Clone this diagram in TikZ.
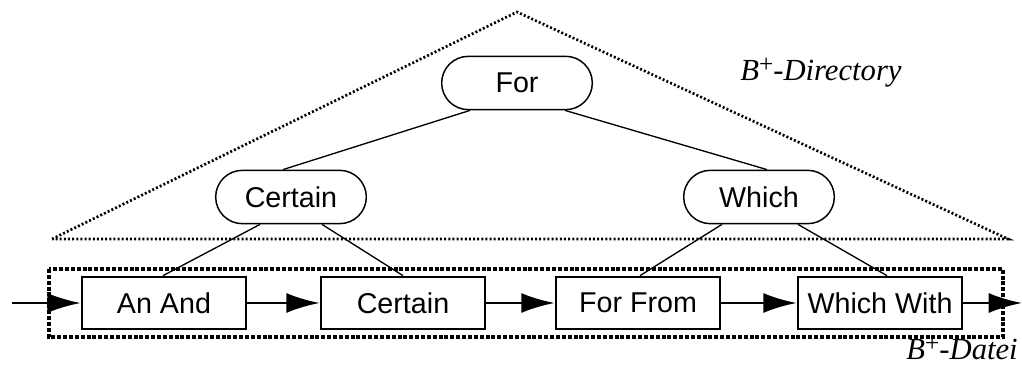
\documentclass[tikz,border=0pt]{standalone}
\usepackage{fontspec}
\setmainfont{Liberation Sans}
\newfontfamily\serifit{Liberation Serif}
\usetikzlibrary{arrows.meta,shapes.misc,calc}

\begin{document}
\begin{tikzpicture}[x=0.75pt,y=-0.75pt,
    inner/.style ={rounded rectangle, draw, line width=1.1pt, minimum width=113pt,
                   minimum height=40pt, inner sep=0pt, font=\fontsize{21.5}{25}\selectfont},
    leaf/.style ={rectangle, draw, line width=2pt, minimum width=123pt,
                  minimum height=39pt, inner sep=0pt, font=\fontsize{21.5}{25}\selectfont},
    link/.style ={line width=1pt},
    chain/.style ={line width=1.9pt, -{Latex[length=25pt,width=15pt]}},
    area/.style ={font=\serifit\itshape\fontsize{23}{27}\selectfont, inner sep=0pt}]
   \useasboundingbox (0,0) rectangle (1022,366);
   % directory triangle
   \coordinate (apex) at (517,12);
   \coordinate (base1) at (52,239);
   \coordinate (base2) at (1008,239);
   \draw[line width=2pt, dash pattern=on 1.5pt off 1.6pt] (base1) -- (apex) -- (base2) -- cycle;
   \node[area] (dir) [anchor=base west] at (740,81)
      {B\raisebox{6.5pt}{\upshape\fontsize{19}{19}\selectfont +}-Directory};
   % file box
   \coordinate (box1) at (49,269);
   \coordinate (box2) at (1003,337);
   \draw[line width=2.4pt, dash pattern=on 3pt off 1.4pt] (box1) rectangle (box2);
   \node[area] (file) [anchor=base east] at (1018,360)
      {B\raisebox{6.5pt}{\upshape\fontsize{19}{19}\selectfont +}-Datei};
   % directory nodes
   \node[inner] (For) at (517,83) {For};
   \node[inner] (C) at (291,197) {Certain};
   \node[inner] (W) at (759,197) {Which};
   % leaves
   \node[leaf] (L1) at (164,303) {An And};
   \node[leaf] (L2) at (403,303) {Certain};
   \node[leaf] (L3) at (638,303) {For From};
   \node[leaf] (L4) at (880,303) {Which With};
   \coordinate (in) at (12,303);
   \coordinate (out) at (1022,303);
   \draw[link] ($(For.south)+(-47,0)$) to ($(C.north)+(-8,0)$);
   \draw[link] ($(For.south)+(48,0)$) to ($(W.north)+(8,0)$);
   \draw[link] ($(C.south)+(-31,0)$) to ($(L1.north)+(-1,0)$);
   \draw[link] ($(C.south)+(31,0)$) to (L2.north);
   \draw[link] ($(W.south)+(-37,0)$) to ($(L3.north)+(2,0)$);
   \draw[link] ($(W.south)+(39,0)$) to ($(L4.north)+(7,0)$);
   \draw[chain] (in) to (L1);
   \draw[chain] (L1) to (L2);
   \draw[chain] (L2) to (L3);
   \draw[chain] (L3) to (L4);
   \draw[chain] (L4) to (out);
 \end{tikzpicture}
\end{document}
